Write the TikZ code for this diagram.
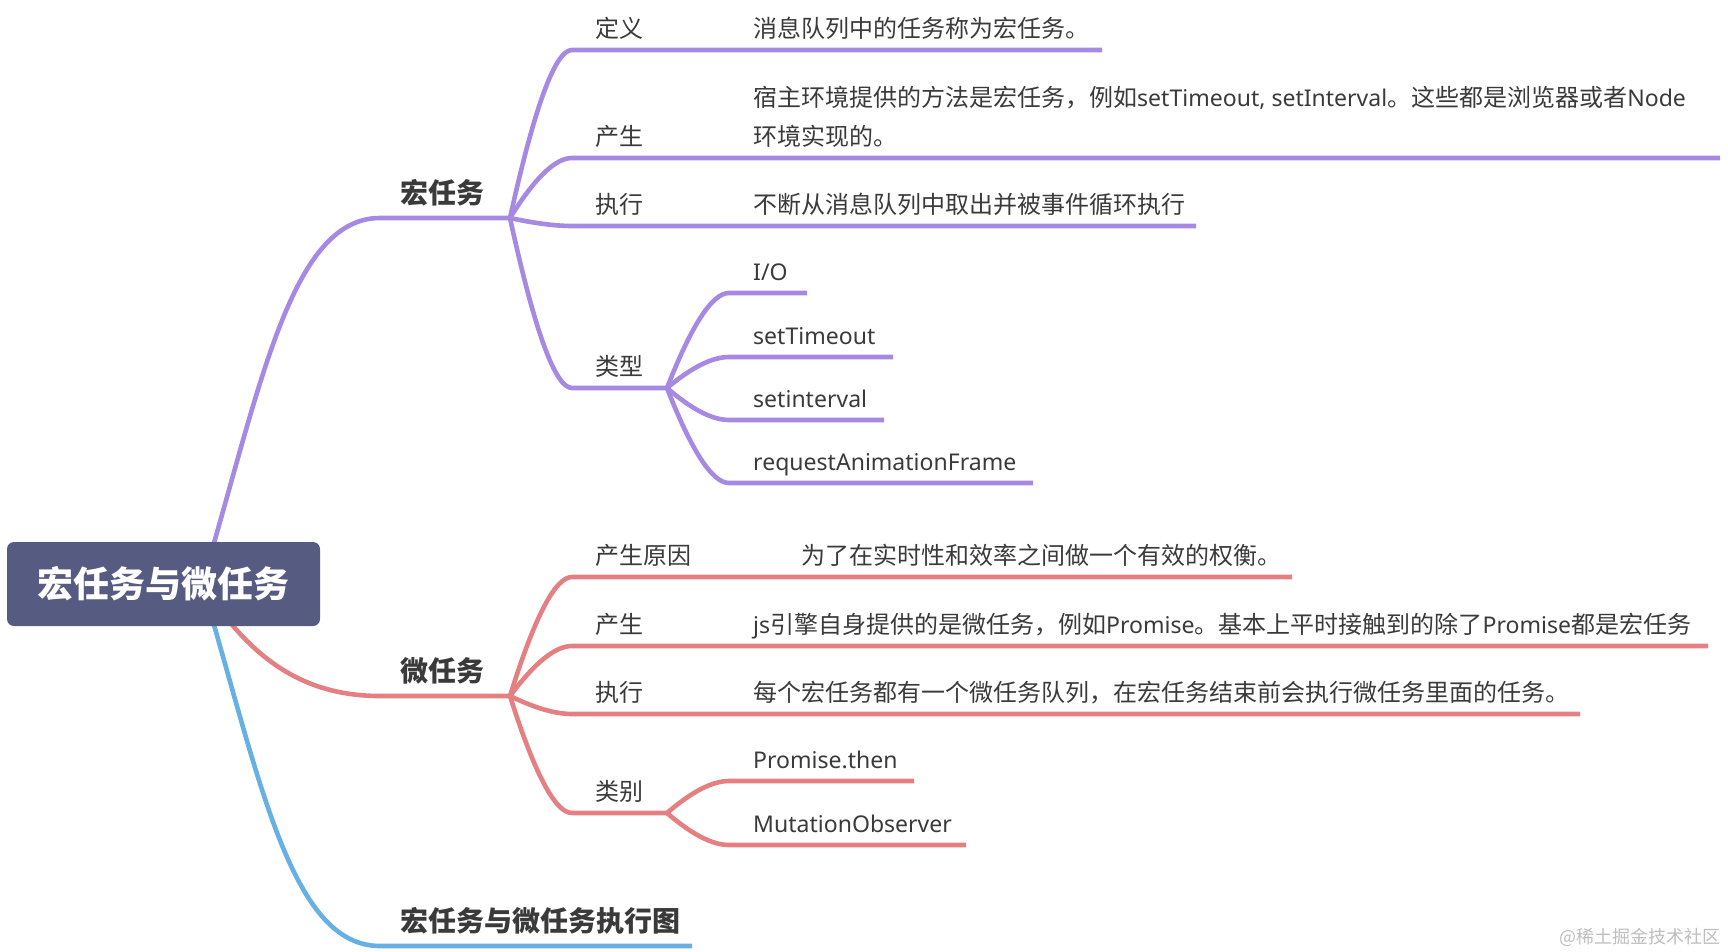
\documentclass[tikz,border=0pt]{standalone}
\usepackage{fontspec}
\setmainfont{Noto Sans CJK SC}
\newfontfamily\lat{Noto Sans}[Scale=0.96]
\usetikzlibrary{calc}
\definecolor{pur}{RGB}{166,137,226}
\definecolor{redc}{RGB}{229,128,130}
\definecolor{blu}{RGB}{102,176,228}
\definecolor{rootc}{RGB}{86,91,129}
\definecolor{txt}{RGB}{58,58,58}
\definecolor{wm}{RGB}{190,190,190}
\newcommand\kid[5]{\draw[conn,#1] (#2) .. controls +(24.7,#5) and +(-16.7,0) .. (#3) -- (#4);}
\begin{document}
\begin{tikzpicture}[x=1pt,y=-1pt,
  conn/.style={line width=4.6pt, line cap=butt, line join=round},
  lbl/.style={anchor=base west, inner sep=0pt, yshift=-2.5pt, text=txt, font=\fontsize{24}{28}\selectfont},
  latn/.style={lbl, font=\fontsize{24}{28}\selectfont\lat},
  big/.style={anchor=base west, inner sep=0pt, yshift=-2.5pt, text=txt, font=\fontsize{28}{32}\selectfont\bfseries},
  rootbox/.style={minimum width=313pt, minimum height=84pt, inner sep=0pt, rounded corners=7pt,
    fill=rootc, text=white, font=\fontsize{36}{40}\selectfont\bfseries},
  wmark/.style={anchor=base east, inner sep=0pt, yshift=4pt, text=wm, font=\fontsize{18}{20}\selectfont}]
\useasboundingbox (0,0) rectangle (1728,952);
% coordinates
\coordinate (r0) at (202,584);
\coordinate (h1) at (380,218); \coordinate (j1) at (510,218);
\coordinate (h2) at (380,696); \coordinate (j2) at (510,696);
\coordinate (g1) at (380,946); \coordinate (g1e) at (692,946);
\coordinate (a1) at (572,50);  \coordinate (a1e) at (1102,50);
\coordinate (a2) at (572,158); \coordinate (a2e) at (1720,158);
\coordinate (a3) at (572,226); \coordinate (a3e) at (1196,226);
\coordinate (a4) at (572,388); \coordinate (j3) at (667,388);
\coordinate (b1) at (729,293); \coordinate (b1e) at (807,293);
\coordinate (b2) at (729,357); \coordinate (b2e) at (893,357);
\coordinate (b3) at (729,420); \coordinate (b3e) at (884,420);
\coordinate (b4) at (729,483); \coordinate (b4e) at (1033,483);
\coordinate (c1) at (572,577); \coordinate (c1e) at (1292,577);
\coordinate (c2) at (572,646); \coordinate (c2e) at (1708,646);
\coordinate (c3) at (572,714); \coordinate (c3e) at (1580,714);
\coordinate (c4) at (572,813); \coordinate (j4) at (667,813);
\coordinate (d1) at (729,781); \coordinate (d1e) at (914,781);
\coordinate (d2) at (729,845); \coordinate (d2e) at (966,845);
% main branches
\draw[conn,pur] (r0) .. controls (260,390) and (290,218) .. (h1) -- (j1);
\draw[conn,redc] (r0) .. controls (245,650) and (295,696) .. (h2) -- (j2);
\draw[conn,blu] (r0) .. controls (260,778) and (290,946) .. (g1) -- (g1e);
% purple children
\kid{pur}{j1}{a1}{a1e}{-112}
\kid{pur}{j1}{a2}{a2e}{-40}
\kid{pur}{j1}{a3}{a3e}{5.3}
\kid{pur}{j1}{a4}{j3}{113.4}
\kid{pur}{j3}{b1}{b1e}{-63.3}
\kid{pur}{j3}{b2}{b2e}{-20.7}
\kid{pur}{j3}{b3}{b3e}{21.3}
\kid{pur}{j3}{b4}{b4e}{63.3}
% red children
\kid{redc}{j2}{c1}{c1e}{-79.4}
\kid{redc}{j2}{c2}{c2e}{-33.3}
\kid{redc}{j2}{c3}{c3e}{12}
\kid{redc}{j2}{c4}{j4}{78}
\kid{redc}{j4}{d1}{d1e}{-21.3}
\kid{redc}{j4}{d2}{d2e}{21.3}
% root
\node[rootbox] (root) at (163.5,584) {\raisebox{-2pt}{宏任务与微任务}};
% big labels
\node[big] (macro) at (400,201) {宏任务};
\node[big] (micro) at (400,679) {微任务};
\node[big] (graph) at (400,929) {宏任务与微任务执行图};
% macro details
\node[lbl] (m-def) at (595,35) {定义};
\node[lbl] (m-defv) at (753,35) {消息队列中的任务称为宏任务。};
\node[lbl] (m-gen) at (595,143) {产生};
\node[lbl] (m-genv1) at (753,104) {宿主环境提供的方法是宏任务，例如{\lat setTimeout, setInterval}。这些都是浏览器或者{\lat Node}};
\node[lbl] (m-genv2) at (753,143) {环境实现的。};
\node[lbl] (m-exe) at (595,211) {执行};
\node[lbl] (m-exev) at (753,211) {不断从消息队列中取出并被事件循环执行};
\node[lbl] (m-type) at (595,373) {类型};
\node[latn] (t1) at (753,278) {I/O};
\node[latn] (t2) at (753,342) {setTimeout};
\node[latn] (t3) at (753,405) {setinterval};
\node[latn] (t4) at (753,468) {requestAnimationFrame};
% micro details
\node[lbl] (u-why) at (595,562) {产生原因};
\node[lbl] (u-whyv) at (801,562) {为了在实时性和效率之间做一个有效的权衡。};
\node[lbl] (u-gen) at (595,631) {产生};
\node[lbl] (u-genv) at (753,631) {{\lat js}引擎自身提供的是微任务，例如{\lat Promise}。基本上平时接触到的除了{\lat Promise}都是宏任务};
\node[lbl] (u-exe) at (595,699) {执行};
\node[lbl] (u-exev) at (753,699) {每个宏任务都有一个微任务队列，在宏任务结束前会执行微任务里面的任务。};
\node[lbl] (u-type) at (595,798) {类别};
\node[latn] (s1) at (753,766) {Promise.then};
\node[latn] (s2) at (753,830) {MutationObserver};
% watermark
\node[wmark] (wm) at (1721,947) {@稀土掘金技术社区};
\end{tikzpicture}
\end{document}
